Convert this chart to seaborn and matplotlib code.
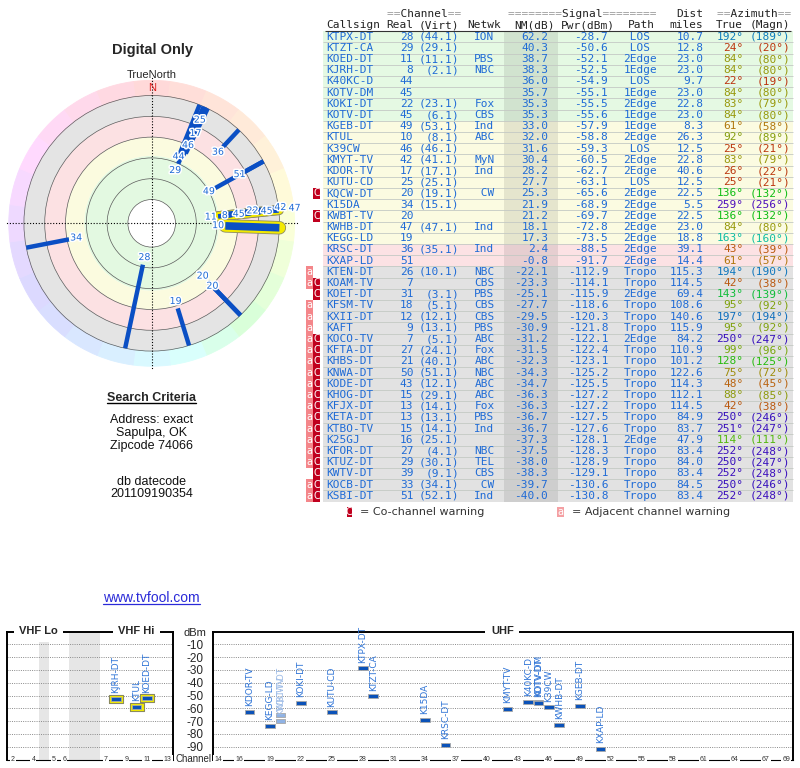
import colorsys
import numpy as np
import pandas as pd
import seaborn as sns
import matplotlib.pyplot as plt
from matplotlib import patheffects as pe
from matplotlib.lines import Line2D

sns.set_style("white")
plt.rcParams['font.family'] = ['Liberation Sans', 'DejaVu Sans']

# station table
callsign = ['KTPX-DT', 'KTZT-CA', 'KOED-DT', 'KJRH-DT', 'K40KC-D', 'KOTV-DM', 'KOKI-DT',
            'KOTV-DT', 'KGEB-DT', 'KTUL', 'K39CW', 'KMYT-TV', 'KDOR-TV', 'KUTU-CD',
            'KQCW-DT', 'K15DA', 'KWBT-TV', 'KWHB-DT', 'KEGG-LD', 'KRSC-DT', 'KXAP-LD',
            'KTEN-DT', 'KOAM-TV', 'KOET-DT', 'KFSM-TV', 'KXII-DT', 'KAFT', 'KOCO-TV',
            'KFTA-DT', 'KHBS-DT', 'KNWA-DT', 'KODE-DT', 'KHOG-DT', 'KFJX-DT', 'KETA-DT',
            'KTBO-TV', 'K25GJ', 'KFOR-DT', 'KTUZ-DT', 'KWTV-DT', 'KOCB-DT', 'KSBI-DT']
real = [28, 29, 11, 8, 44, 45, 22, 45, 49, 10, 46, 42, 17, 25, 20, 34, 20, 47, 19, 36, 51,
        26, 7, 31, 18, 12, 9, 7, 27, 21, 50, 43, 15, 13, 13, 15, 16, 27, 29, 39, 33, 51]
virt = ['44.1', '29.1', '11.1', '2.1', '', '', '23.1', '6.1', '53.1', '8.1', '46.1', '41.1',
        '17.1', '25.1', '19.1', '15.1', '', '47.1', '', '35.1', '', '10.1', '', '3.1', '5.1',
        '12.1', '13.1', '5.1', '24.1', '40.1', '51.1', '12.1', '29.1', '14.1', '13.1', '14.1',
        '25.1', '4.1', '30.1', '9.1', '34.1', '52.1']
netwk = ['ION', '', 'PBS', 'NBC', '', '', 'Fox', 'CBS', 'Ind', 'ABC', '', 'MyN', 'Ind', '',
         'CW', '', '', 'Ind', '', 'Ind', '', 'NBC', 'CBS', 'PBS', 'CBS', 'CBS', 'PBS', 'ABC',
         'Fox', 'ABC', 'NBC', 'ABC', 'ABC', 'Fox', 'PBS', 'Ind', '', 'NBC', 'TEL', 'CBS',
         'CW', 'Ind']
nm_db = [62.2, 40.3, 38.7, 38.3, 36.0, 35.7, 35.3, 35.3, 33.0, 32.0, 31.6, 30.4, 28.2, 27.7,
         25.3, 21.9, 21.2, 18.1, 17.3, 2.4, -0.8, -22.1, -23.3, -25.1, -27.7, -29.5, -30.9,
         -31.2, -31.5, -32.3, -34.3, -34.7, -36.3, -36.3, -36.7, -36.7, -37.3, -37.5, -38.0,
         -38.3, -39.7, -40.0]
pwr_dbm = [-28.7, -50.6, -52.1, -52.5, -54.9, -55.1, -55.5, -55.6, -57.9, -58.8, -59.3,
           -60.5, -62.7, -63.1, -65.6, -68.9, -69.7, -72.8, -73.5, -88.5, -91.7, -112.9,
           -114.1, -115.9, -118.6, -120.3, -121.8, -122.1, -122.4, -123.1, -125.2, -125.5,
           -127.2, -127.2, -127.5, -127.6, -128.1, -128.3, -128.9, -129.1, -130.6, -130.8]
path = ['LOS', 'LOS', '2Edge', '1Edge', 'LOS', '1Edge', '2Edge', '1Edge', '1Edge', '2Edge',
        'LOS', '2Edge', '2Edge', 'LOS', '2Edge', '2Edge', '2Edge', '2Edge', '2Edge', '2Edge',
        '2Edge', 'Tropo', 'Tropo', '2Edge', 'Tropo', 'Tropo', 'Tropo', '2Edge', 'Tropo',
        'Tropo', 'Tropo', 'Tropo', 'Tropo', 'Tropo', 'Tropo', 'Tropo', '2Edge', 'Tropo',
        'Tropo', 'Tropo', 'Tropo', 'Tropo']
dist_mi = [10.7, 12.8, 23.0, 23.0, 9.7, 23.0, 22.8, 23.0, 8.3, 26.3, 12.5, 22.8, 40.6, 12.5,
           22.5, 5.5, 22.5, 23.0, 18.8, 39.1, 14.4, 115.3, 114.5, 69.4, 108.6, 140.6, 115.9,
           84.2, 110.9, 101.2, 122.6, 114.3, 112.1, 114.5, 84.9, 83.7, 47.9, 83.4, 84.0, 83.4,
           84.5, 83.4]
az_true = [192, 24, 84, 84, 22, 84, 83, 84, 61, 92, 25, 83, 26, 25, 136, 259, 136, 84, 163,
           43, 61, 194, 42, 143, 95, 197, 95, 250, 99, 128, 75, 48, 88, 42, 250, 251, 114,
           252, 250, 252, 250, 252]
az_magn = [189, 20, 80, 80, 19, 80, 79, 80, 58, 89, 21, 79, 22, 21, 132, 256, 132, 80, 160,
           39, 57, 190, 38, 139, 92, 194, 92, 247, 96, 125, 72, 45, 85, 38, 246, 247, 111,
           248, 247, 248, 246, 248]
# a = adjacent channel warning, C = co-channel warning
warn = [''] * 14 + ['C', '', 'C', '', '', '', '', 'a', 'aC', 'C', 'a', 'a', 'a'] \
       + ['aC'] * 12 + ['C', 'aC', 'aC']

vhf_ticks = [2, 4, 5, 6, 7, 9, 11, 13]
uhf_ticks = [14, 16] + list(range(19, 68, 3)) + [69]
db_ticks = list(range(-90, 0, 10))
ring_nm = [80, 60, 40, 20, 0, -20]

df = pd.DataFrame(dict(call=callsign, real=real, virt=virt, netwk=netwk, nm=nm_db,
                       pwr=pwr_dbm, path=path, dist=dist_mi, az=az_true, magn=az_magn,
                       warn=warn))

BLUE = '#1f6bd6'
LINE = '#0b4fc4'
MONO = 'DejaVu Sans Mono'
THICK = {'KTUL'}

AZ_PTS = [0, 25, 60, 85, 135, 165, 195, 255, 360]
HUE_PTS = [0, 14, 38, 62, 120, 175, 205, 258, 360]


def az_color(az, s=0.92, v=0.74, mix=0.0, dim=True):
    hd = np.interp(az % 360, AZ_PTS, HUE_PTS)
    if dim:
        # yellows read as olive in the report
        v = v - 0.14 * np.exp(-((hd - 62) / 22) ** 2)
    rgb = np.array(colorsys.hsv_to_rgb(hd / 360.0, s, v))
    return tuple(rgb + (1 - rgb) * mix)


def row_color(nm):
    if nm >= 35:
        return '#e5f9e3'
    if nm >= 15:
        return '#fbfbe1'
    if nm >= -10:
        return '#fce2e4'
    return '#e2e2e2'


def slot(ch):
    # VHF panel is laid out in channel slots with gaps at 72-76 MHz and the FM band
    if ch <= 4:
        return ch - 2
    if ch <= 6:
        return ch - 1
    return ch + 2


fig = plt.figure(figsize=(8, 7.68), dpi=100)


def fx(px):
    return px / 800


def fy(py):
    return 1 - py / 768


# ---------------- radar plot ----------------
CX, CY, RAD = 151.7, 223.3, 147
R_IN, R_OUT = 102.9, -38.5
pol = fig.add_axes([fx(CX - RAD), fy(CY + RAD), 2 * RAD / 800, 2 * RAD / 768],
                   projection='polar')
pol.set_theta_zero_location('N')
pol.set_theta_direction(-1)
pol.set_ylim(R_IN, R_OUT)
pol.spines['polar'].set_visible(False)

for lo, hi, col in [(38, 80, '#e3f9e1'), (20, 38, '#fbfbdf'), (0, 20, '#fce1e3'),
                    (-20, 0, '#e4e4e4')]:
    pol.bar(0, hi - lo, width=2 * np.pi, bottom=lo, color=col, lw=0, zorder=0.5)

sect = np.arange(0, 360, 15)
for c in sect:
    pc = az_color(c, s=1, v=1, mix=0.85, dim=False)
    pol.bar(np.deg2rad(c), -14.6, width=np.deg2rad(15), bottom=-20, color=pc,
            edgecolor=pc, lw=0.6, zorder=0.5)

pol.set_xticks([])
pol.set_yticks(ring_nm)
pol.set_yticklabels([])
pol.yaxis.grid(True, color='#5a5a5a', lw=0.5, ls='-')

for th in [0, 90, 180, 270]:
    pol.plot([np.deg2rad(th)] * 2, [R_IN, R_OUT], color='k', lw=0.8,
             ls=(0, (1, 1.6)), zorder=2)

drawn = df[df.nm > -20]
for r in drawn.itertuples():
    if r.real <= 13:
        th = np.deg2rad(r.az)
        lw = 5.5 if r.call in THICK else 3.2
        pol.plot([th, th], [r.nm, -20], color='#f3ea00', lw=lw + 3.0,
                 solid_capstyle='round', zorder=2.5,
                 path_effects=[pe.Stroke(linewidth=lw + 4.2, foreground='#8c8c66'),
                               pe.Normal()])
for r in drawn.itertuples():
    th = np.deg2rad(r.az)
    lw = 5.5 if r.call in THICK else 3.2
    pol.plot([th, th], [r.nm, -20], color=LINE, lw=lw, solid_capstyle='butt', zorder=3)

# channel labels, pushed outward where several stations share a bearing
d = drawn.sort_values('az', kind='stable')
groups, cur, prev = [], [], None
for r in d.itertuples():
    if prev is not None and r.az - prev > 4:
        groups.append(cur)
        cur = []
    cur.append(r)
    prev = r.az
groups.append(cur)
for g in groups:
    g = sorted(g, key=lambda t: -t.nm)
    last = None
    for r in g:
        want = r.nm + 7
        if last is not None:
            want = min(want, last - 13.5)
        last = want
        pol.text(np.deg2rad(r.az), want, str(r.real), ha='center', va='center',
                 fontsize=6.8, color=BLUE, family='DejaVu Sans', zorder=4,
                 path_effects=[pe.withStroke(linewidth=2.2, foreground='white')])

pol.text(0, -27, 'N', ha='center', va='center', color='#dd2020', fontsize=8)

fig.text(fx(152), fy(50), 'Digital Only', ha='center', va='center', fontsize=10.5,
         weight='bold')
fig.text(fx(151.7), fy(75), 'TrueNorth', ha='center', va='center', fontsize=8)


def underline(t, color, lw=0.9, drop=1.0):
    fig.canvas.draw()
    bb = t.get_window_extent()
    inv = fig.transFigure.inverted()
    (x0, y0), (x1, _) = inv.transform([(bb.x0, bb.y0 + drop), (bb.x1, bb.y0)])
    fig.add_artist(Line2D([x0, x1], [y0, y0], color=color, lw=lw,
                          transform=fig.transFigure))


st = fig.text(fx(151.7), fy(398), 'Search Criteria', ha='center', va='center',
              fontsize=9, weight='bold')
underline(st, 'black', lw=1.0)
for txt, py in [('Address: exact', 420), ('Sapulpa, OK', 432.7), ('Zipcode 74066', 445.5),
                ('db datecode', 481.7), ('201109190354', 494)]:
    fig.text(fx(151.7), fy(py), txt, ha='center', va='center', fontsize=9, color='#111')
url = fig.text(fx(151.7), fy(598), 'www.tvfool.com', ha='center', va='center',
               fontsize=10, color='#2a2ad8')
underline(url, '#2a2ad8', lw=0.9, drop=1.5)

# ---------------- station table ----------------
P0, PITCH = 36.7, 11.2


def ry(py):
    return (py - P0) / PITCH


tab = fig.add_axes([fx(300), fy(520), 500 / 800, 520 / 768])
tab.set_xlim(300, 800)
tab.set_ylim(ry(520), ry(0))
tab.axis('off')

n = len(df)
rows = np.arange(n)
tab.barh(rows, 470, left=323, height=1.0, color=[row_color(v) for v in df.nm], lw=0)
tab.barh(rows, 53.4, left=504.3, height=1.0, color='black', alpha=0.085, lw=0)
tab.hlines(rows[:-1] + 0.5, 323, 793, color='#c4c9c4', lw=0.6)

mono = dict(family=MONO, fontsize=8, va='center')
hy1, hy2 = ry(14), ry(25)
for x, gray, dark in [(386.7, '==       ==', '  Channel  '),
                      (508.0, '========      ========', '        Signal        '),
                      (716.7, '==       ==', '  Azimuth  ')]:
    tab.text(x, hy1, gray, color='#9a9a9a', ha='left', **mono)
    tab.text(x, hy1, dark, color='#222222', ha='left', **mono)
tab.text(703.3, hy1, 'Dist', color='#222222', ha='right', **mono)
for x, s, ha in [(326.7, 'Callsign', 'left'), (413.3, 'Real', 'right'),
                 (459.3, '(Virt)', 'right'), (467.7, 'Netwk', 'left'),
                 (555, 'NM(dB)', 'right'), (615, 'Pwr(dBm)', 'right'),
                 (655, 'Path', 'right'), (703.3, 'miles', 'right'),
                 (742.7, 'True', 'right'), (790, '(Magn)', 'right')]:
    tab.text(x, hy2, s, color='#222222', ha=ha, **mono)
tab.hlines(ry(30.8), 325, 791, color='#333333', lw=0.8)

for i, r in enumerate(df.itertuples()):
    tab.text(326.7, i, r.call, color=BLUE, ha='left', **mono)
    tab.text(413.3, i, str(r.real), color=BLUE, ha='right', **mono)
    if r.virt:
        tab.text(459.3, i, f'({r.virt})', color=BLUE, ha='right', **mono)
    if r.netwk:
        tab.text(474.3, i, f'{r.netwk:>3}', color=BLUE, ha='left', **mono)
    tab.text(548.3, i, f'{r.nm:.1f}', color=BLUE, ha='right', **mono)
    tab.text(608.3, i, f'{r.pwr:.1f}', color=BLUE, ha='right', **mono)
    tab.text(623.3, i, f'{r.path:^5}', color=BLUE, ha='left', **mono)
    tab.text(703.3, i, f'{r.dist:.1f}', color=BLUE, ha='right', **mono)
    tab.text(743.3, i, f'{r.az}°', color=az_color(r.az), ha='right', **mono)
    tab.text(790, i, f'({r.magn}°)', color=az_color(r.az), ha='right', **mono)
    if 'a' in r.warn:
        tab.barh(i, 6.7, left=306, height=1.0, color='#f4868a', lw=0)
        tab.text(309.35, i, 'a', color='white', ha='center', va='center', fontsize=7,
                 family='DejaVu Sans')
    if 'C' in r.warn:
        tab.barh(i, 6.7, left=313.3, height=1.0, color='#c0001e', lw=0)
        tab.text(316.65, i, 'C', color='white', ha='center', va='center', fontsize=7,
                 family='DejaVu Sans')

ly = ry(512)
tab.barh(ly, 5.6, left=346.5, height=0.95, color='#c0001e', lw=0)
tab.text(349.3, ly, 'C', color='white', ha='center', va='center', fontsize=7,
         family='DejaVu Sans')
tab.text(360, ly, '= Co-channel warning', color='#333333', ha='left', va='center',
         fontsize=8, family='DejaVu Sans')
tab.barh(ly, 6.7, left=557.3, height=0.95, color='#f4a0a3', lw=0)
tab.text(560.6, ly, 'a', color='white', ha='center', va='center', fontsize=7,
         family='DejaVu Sans')
tab.text(571.7, ly, '= Adjacent channel warning', color='#333333', ha='left',
         va='center', fontsize=8, family='DejaVu Sans')

# ---------------- spectrum panels ----------------
top_px, bot_px = 631.5, 759.5
vhf = fig.add_axes([fx(6.7), fy(bot_px), 166.6 / 800, (bot_px - top_px) / 768])
uhf = fig.add_axes([fx(213.3), fy(bot_px), 579.4 / 800, (bot_px - top_px) / 768])
vhf.set_xlim(-0.58, 15.55)
uhf.set_xlim(13.52, 69.61)

vhf.axvspan(slot(4) + 0.5, slot(5) - 0.5, color='#e6e6e6', lw=0, zorder=0)
vhf.axvspan(slot(6) + 0.5, slot(7) - 0.5, color='#e6e6e6', lw=0, zorder=0)

for ax in (vhf, uhf):
    ax.set_ylim(-100, 0)
    ax.set_yticks(db_ticks)
    ax.set_xticks([])
    ax.yaxis.grid(True, color='#8a8a8a', ls=(0, (1, 1.3)), lw=0.7)
    ax.tick_params(length=0)
    for sp in ax.spines.values():
        sp.set_visible(True)
        sp.set_color('black')
        sp.set_linewidth(1.4)
    ax.spines['bottom'].set_linewidth(0.8)
vhf.set_yticklabels([])
uhf.set_yticklabels([str(v) for v in db_ticks], fontsize=8.5)
uhf.tick_params(axis='y', pad=7.2)

for ax, ticks, fn in [(vhf, vhf_ticks, slot), (uhf, uhf_ticks, lambda c: c)]:
    for ch in ticks:
        ax.text(fn(ch), -100, str(ch), ha='center', va='center', fontsize=5, color='#333',
                bbox=dict(fc='white', ec='none', pad=0.7), zorder=5, clip_on=False)

for ax, x, s in [(vhf, (slot(2) + slot(6)) / 2, 'VHF Lo'),
                 (vhf, (slot(7) + slot(13)) / 2, 'VHF Hi'),
                 (uhf, (14 + 69) / 2, 'UHF')]:
    ax.text(x, 0, s, ha='center', va='center', fontsize=8, weight='bold', zorder=5,
            bbox=dict(fc='white', ec='none', pad=4), clip_on=False)

fig.text(fx(194.5), fy(633), 'dBm', ha='center', va='center', fontsize=8)
fig.text(fx(194), fy(759.5), 'Channel', ha='center', va='center', fontsize=7)

spec = df[df.pwr > -100].copy()
spec['band'] = np.where(spec.real <= 13, 'VHF', 'UHF')
spec['x'] = [slot(c) if c <= 13 else c for c in spec.real]
spec['tone'] = np.where(spec.warn.str.contains('C'), 'faded', 'main')

bar_mk = [(-1, -0.42), (1, -0.42), (1, 0.42), (-1, 0.42), (-1, -0.42)]
hi_mk = [(-1, -0.6), (1, -0.6), (1, 0.6), (-1, 0.6), (-1, -0.6)]
pal = {'main': '#0b52b8', 'faded': '#8fb2e4'}
lab_col = {'main': '#2f74d6', 'faded': '#9dbbe6'}

for ax, band in [(vhf, 'VHF'), (uhf, 'UHF')]:
    sub = spec[spec.band == band]
    if band == 'VHF':
        sns.scatterplot(data=sub, x='x', y='pwr', marker=hi_mk, s=100, color='#f4ee00',
                        edgecolor='#8a8a60', linewidth=0.8, legend=False, ax=ax, zorder=3)
    sns.scatterplot(data=sub, x='x', y='pwr', hue='tone', palette=pal, marker=bar_mk,
                    s=46, edgecolor='#a8a8a8', linewidth=0.6, legend=False, ax=ax, zorder=4)
    for r in sub.itertuples():
        ax.annotate(r.call, (r.x, r.pwr), xytext=(0, 4), textcoords='offset points',
                    rotation=90, ha='center', va='bottom', fontsize=6.5,
                    family='DejaVu Sans', color=lab_col[r.tone], zorder=5)
    ax.set_xlabel('')
    ax.set_ylabel('')

fig.savefig('out.png', dpi=100)
